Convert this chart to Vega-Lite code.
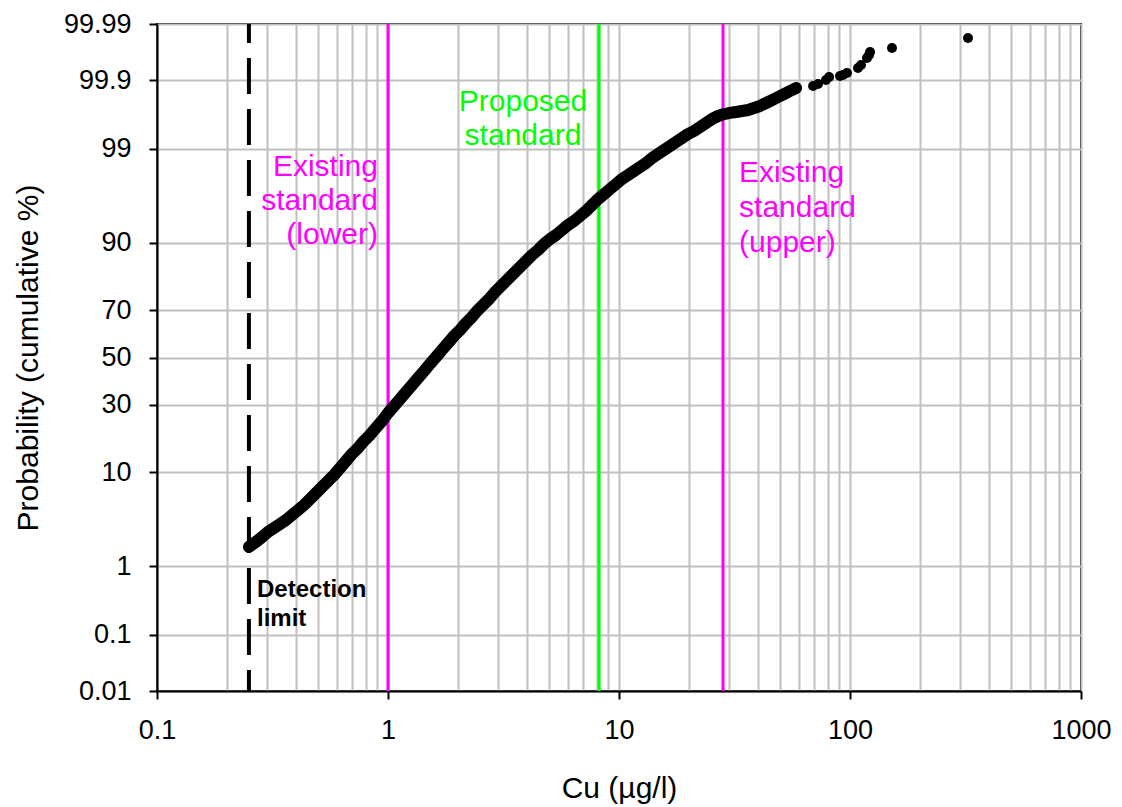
{
  "$schema": "https://vega.github.io/schema/vega-lite/v6.json",
  "width": 924,
  "height": 667,
  "autosize": {"type": "none"},
  "padding": {"left": 157, "top": 24, "right": 41, "bottom": 116},
  "background": "white",
  "config": {
    "font": "Liberation Sans",
    "view": {"stroke": "black", "strokeWidth": 2},
    "axis": {
      "domainColor": "black",
      "domainWidth": 2,
      "tickColor": "black",
      "tickWidth": 2,
      "tickSize": 8,
      "gridColor": "#c0c0c0",
      "gridWidth": 2,
      "gridOpacity": 1,
      "labelColor": "black",
      "labelFont": "Liberation Sans",
      "labelFontSize": 27,
      "titleFont": "Liberation Sans",
      "titleFontSize": 30,
      "titleFontWeight": "normal",
      "titleColor": "black"
    }
  },
  "datasets": {
    "samples": [
      {"cu": 0.25, "z": -2.113}, {"cu": 0.268, "z": -2.057}, {"cu": 0.285, "z": -2.002}, {"cu": 0.302, "z": -1.946},
      {"cu": 0.321, "z": -1.901}, {"cu": 0.341, "z": -1.857}, {"cu": 0.362, "z": -1.812}, {"cu": 0.384, "z": -1.756},
      {"cu": 0.408, "z": -1.701}, {"cu": 0.433, "z": -1.645}, {"cu": 0.46, "z": -1.578}, {"cu": 0.488, "z": -1.511},
      {"cu": 0.518, "z": -1.444}, {"cu": 0.55, "z": -1.377}, {"cu": 0.584, "z": -1.31}, {"cu": 0.62, "z": -1.232},
      {"cu": 0.658, "z": -1.154}, {"cu": 0.698, "z": -1.076}, {"cu": 0.742, "z": -1.009}, {"cu": 0.787, "z": -0.931},
      {"cu": 0.836, "z": -0.864}, {"cu": 0.887, "z": -0.786}, {"cu": 0.942, "z": -0.708}, {"cu": 1.0, "z": -0.619},
      {"cu": 1.062, "z": -0.541}, {"cu": 1.127, "z": -0.463}, {"cu": 1.197, "z": -0.385}, {"cu": 1.27, "z": -0.307},
      {"cu": 1.349, "z": -0.229}, {"cu": 1.432, "z": -0.151}, {"cu": 1.52, "z": -0.072}, {"cu": 1.614, "z": 0.006},
      {"cu": 1.713, "z": 0.084}, {"cu": 1.819, "z": 0.162}, {"cu": 1.931, "z": 0.24}, {"cu": 2.05, "z": 0.307},
      {"cu": 2.177, "z": 0.385}, {"cu": 2.311, "z": 0.452}, {"cu": 2.453, "z": 0.53}, {"cu": 2.605, "z": 0.597},
      {"cu": 2.765, "z": 0.664}, {"cu": 2.936, "z": 0.742}, {"cu": 3.117, "z": 0.808}, {"cu": 3.309, "z": 0.875},
      {"cu": 3.513, "z": 0.942}, {"cu": 3.73, "z": 1.009}, {"cu": 3.96, "z": 1.076}, {"cu": 4.204, "z": 1.143},
      {"cu": 4.463, "z": 1.199}, {"cu": 4.738, "z": 1.266}, {"cu": 5.03, "z": 1.321}, {"cu": 5.34, "z": 1.366},
      {"cu": 5.67, "z": 1.422}, {"cu": 6.019, "z": 1.478}, {"cu": 6.39, "z": 1.522}, {"cu": 6.784, "z": 1.578},
      {"cu": 7.203, "z": 1.634}, {"cu": 7.647, "z": 1.701}, {"cu": 8.118, "z": 1.767}, {"cu": 8.619, "z": 1.823},
      {"cu": 9.15, "z": 1.879}, {"cu": 9.715, "z": 1.935}, {"cu": 10.31, "z": 1.991}, {"cu": 10.95, "z": 2.035},
      {"cu": 11.62, "z": 2.08}, {"cu": 12.34, "z": 2.124}, {"cu": 13.1, "z": 2.169}, {"cu": 13.9, "z": 2.225},
      {"cu": 14.76, "z": 2.269}, {"cu": 15.67, "z": 2.314}, {"cu": 16.64, "z": 2.359}, {"cu": 17.66, "z": 2.403},
      {"cu": 18.75, "z": 2.448}, {"cu": 19.91, "z": 2.492}, {"cu": 21.13, "z": 2.526}, {"cu": 22.44, "z": 2.57},
      {"cu": 23.82, "z": 2.615}, {"cu": 25.29, "z": 2.66}, {"cu": 26.85, "z": 2.693}, {"cu": 28.5, "z": 2.715},
      {"cu": 30.26, "z": 2.727}, {"cu": 32.12, "z": 2.738}, {"cu": 34.1, "z": 2.749}, {"cu": 36.2, "z": 2.76},
      {"cu": 38.43, "z": 2.782}, {"cu": 40.8, "z": 2.805}, {"cu": 43.31, "z": 2.838}, {"cu": 45.98, "z": 2.871},
      {"cu": 48.81, "z": 2.905}, {"cu": 51.82, "z": 2.938}, {"cu": 55.01, "z": 2.972}, {"cu": 58.4, "z": 3.005},
      {"cu": 69.2, "z": 3.028}, {"cu": 72.7, "z": 3.05}, {"cu": 78.7, "z": 3.095}, {"cu": 81.2, "z": 3.128},
      {"cu": 90.5, "z": 3.139}, {"cu": 93.3, "z": 3.15}, {"cu": 97.0, "z": 3.173}, {"cu": 108.3, "z": 3.228},
      {"cu": 111.6, "z": 3.262}, {"cu": 118.5, "z": 3.34}, {"cu": 120.9, "z": 3.373}, {"cu": 122.1, "z": 3.407},
      {"cu": 152.0, "z": 3.451}, {"cu": 324.2, "z": 3.563}
    ],
    "limits": [
      {"name": "Detection limit", "cu": 0.25},
      {"name": "Existing standard (lower)", "cu": 1.0},
      {"name": "Proposed standard", "cu": 8.2},
      {"name": "Existing standard (upper)", "cu": 28.2}
    ],
    "notes": [
      {"kind": "detection", "label": "Detection\nlimit", "cu": 0.271, "z": -2.671},
      {"kind": "lower", "label": "Existing\nstandard\n(lower)", "cu": 0.905, "z": 2.024},
      {"kind": "proposed", "label": "Proposed\nstandard", "cu": 3.84, "z": 2.749},
      {"kind": "upper", "label": "Existing\nstandard\n(upper)", "cu": 33.1, "z": 1.957}
    ]
  },
  "layer": [
    {
      "data": {"name": "limits"},
      "transform": [{"filter": "datum.name == 'Detection limit'"}],
      "mark": {"type": "rule", "color": "black", "strokeWidth": 4, "strokeDash": [36, 15], "strokeDashOffset": 17},
      "encoding": {
        "x": {
          "field": "cu",
          "type": "quantitative",
          "scale": {"type": "log", "domain": [0.1, 1000], "nice": false},
          "title": "Cu (µg/l)",
          "axis": {
            "values": [0.1, 0.2, 0.3, 0.4, 0.5, 0.6, 0.7, 0.8, 0.9, 1, 2, 3, 4, 5, 6, 7, 8, 9, 10, 20, 30, 40, 50, 60, 70, 80, 90, 100, 200, 300, 400, 500, 600, 700, 800, 900, 1000],
            "labelExpr": "(datum.value == 0.1 || datum.value == 1 || datum.value == 10 || datum.value == 100 || datum.value == 1000) ? toString(datum.value) : ''",
            "tickOpacity": {"condition": {"test": "datum.value == 0.1 || datum.value == 1 || datum.value == 10 || datum.value == 100 || datum.value == 1000", "value": 1}, "value": 0},
            "labelOverlap": false,
            "labelFlush": false,
            "labelPadding": 18,
            "titlePadding": 30,
            "grid": true
          }
        }
      }
    },
    {
      "data": {"name": "limits"},
      "transform": [{"filter": "indexof(datum.name, 'Existing') == 0"}],
      "mark": {"type": "rule", "color": "#ff00ff", "strokeWidth": 3},
      "encoding": {"x": {"field": "cu", "type": "quantitative"}}
    },
    {
      "data": {"name": "limits"},
      "transform": [{"filter": "datum.name == 'Proposed standard'"}],
      "mark": {"type": "rule", "color": "#00ff00", "strokeWidth": 3},
      "encoding": {"x": {"field": "cu", "type": "quantitative"}}
    },
    {
      "data": {"name": "samples"},
      "transform": [{"filter": "datum.cu < 60"}],
      "mark": {"type": "line", "color": "black", "strokeWidth": 12, "strokeCap": "round", "strokeJoin": "round"},
      "encoding": {
        "x": {"field": "cu", "type": "quantitative"},
        "y": {"field": "z", "type": "quantitative"}
      }
    },
    {
      "data": {"name": "samples"},
      "mark": {"type": "circle", "color": "black", "opacity": 1, "size": 100},
      "encoding": {
        "x": {"field": "cu", "type": "quantitative"},
        "y": {
          "field": "z",
          "type": "quantitative",
          "scale": {"domain": [-3.719, 3.719], "nice": false, "zero": false},
          "title": "Probability (cumulative %)",
          "axis": {
            "values": [-3.719, -3.0902, -2.3263, -1.2816, -0.5244, 0, 0.5244, 1.2816, 2.3263, 3.0902, 3.719],
            "labelExpr": "datum.value < -3.5 ? '0.01' : datum.value < -3 ? '0.1' : datum.value < -2 ? '1' : datum.value < -1 ? '10' : datum.value < -0.4 ? '30' : datum.value < 0.4 ? '50' : datum.value < 1 ? '70' : datum.value < 2 ? '90' : datum.value < 3 ? '99' : datum.value < 3.5 ? '99.9' : '99.99'",
            "labelOverlap": false,
            "labelFlush": false,
            "labelPadding": 18,
            "titlePadding": 20,
            "grid": true
          }
        }
      }
    },
    {
      "data": {"name": "notes"},
      "transform": [{"filter": "datum.kind == 'lower'"}],
      "mark": {"type": "text", "align": "right", "baseline": "alphabetic", "lineBreak": "\n", "lineHeight": 34, "fontSize": 30, "color": "#ff00ff"},
      "encoding": {"x": {"field": "cu", "type": "quantitative"}, "y": {"field": "z", "type": "quantitative"}, "text": {"field": "label"}}
    },
    {
      "data": {"name": "notes"},
      "transform": [{"filter": "datum.kind == 'upper'"}],
      "mark": {"type": "text", "align": "left", "baseline": "alphabetic", "lineBreak": "\n", "lineHeight": 35, "fontSize": 30, "color": "#ff00ff"},
      "encoding": {"x": {"field": "cu", "type": "quantitative"}, "y": {"field": "z", "type": "quantitative"}, "text": {"field": "label"}}
    },
    {
      "data": {"name": "notes"},
      "transform": [{"filter": "datum.kind == 'proposed'"}],
      "mark": {"type": "text", "align": "center", "baseline": "alphabetic", "lineBreak": "\n", "lineHeight": 34, "fontSize": 30, "color": "#00ff00"},
      "encoding": {"x": {"field": "cu", "type": "quantitative"}, "y": {"field": "z", "type": "quantitative"}, "text": {"field": "label"}}
    },
    {
      "data": {"name": "notes"},
      "transform": [{"filter": "datum.kind == 'detection'"}],
      "mark": {"type": "text", "align": "left", "baseline": "alphabetic", "lineBreak": "\n", "lineHeight": 29, "fontSize": 24, "fontWeight": "bold", "color": "black"},
      "encoding": {"x": {"field": "cu", "type": "quantitative"}, "y": {"field": "z", "type": "quantitative"}, "text": {"field": "label"}}
    }
  ]
}
